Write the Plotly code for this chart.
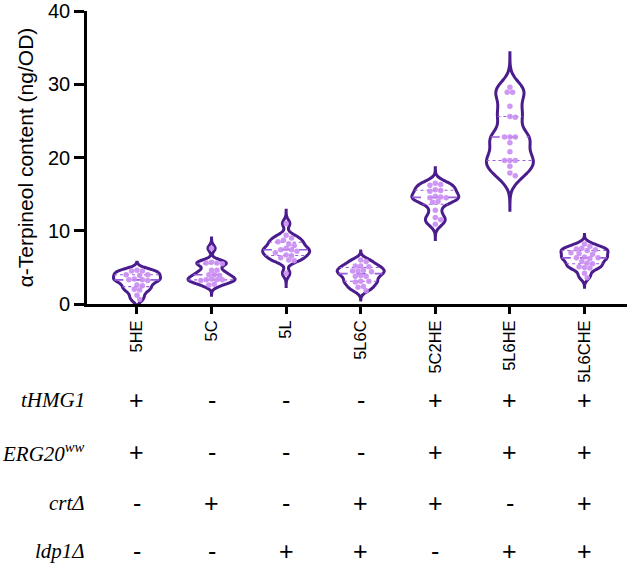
import numpy as np
import plotly.graph_objects as go

categories = ["5HE", "5C", "5L", "5L6C", "5C2HE", "5L6HE", "5L6CHE"]

v_5HE = [4.6, 4.5, 4.5, 4.0, 4.0, 3.9, 3.4, 3.3, 3.3, 3.2, 2.6, 2.5, 2.0, 1.9, 1.2, 0.6]
v_5C = [7.6, 5.7, 5.6, 5.6, 5.5, 4.6, 4.6, 4.0, 4.0, 3.9, 3.4, 3.3, 3.3, 3.3, 3.2, 2.7, 2.6]
v_5L = [11.0, 9.4, 9.0, 8.7, 8.5, 8.2, 8.0, 7.6, 7.4, 7.4, 7.2, 7.0, 6.7, 6.6, 6.3, 6.0, 5.9, 4.2]
v_5L6C = [6.0, 5.8, 5.2, 5.2, 5.1, 4.6, 4.5, 4.5, 4.4, 3.9, 3.8, 3.8, 3.1, 3.1, 3.0, 2.4, 2.3, 1.8]
v_5C2HE = [16.5, 16.3, 16.2, 15.6, 15.5, 15.4, 14.7, 14.6, 14.5, 14.5, 14.0, 13.9, 12.8, 11.8, 11.5, 10.9]
v_5L6HE = [29.6, 28.9, 28.9, 27.0, 25.6, 25.5, 22.8, 22.8, 22.8, 22.0, 20.8, 19.6, 19.6, 19.6, 18.8, 17.9, 17.5]
v_5L6CHE = [8.2, 7.9, 7.6, 7.5, 7.4, 7.3, 7.0, 6.9, 6.8, 6.4, 6.3, 6.3, 6.2, 5.8, 5.6, 5.5, 5.1, 5.0, 4.9, 4.2, 3.6]

series = [v_5HE, v_5C, v_5L, v_5L6C, v_5C2HE, v_5L6HE, v_5L6CHE]
bandwidths = [0.42, 0.42, 0.5, 0.42, 0.6, 1.25, 0.42]
tail_ext = [1.1, 1.4, 1.8, 1.25, 2.1, 4.7, 1.3]

y_ticks = [0, 10, 20, 30, 40]
y_title = "α-Terpineol content (ng/OD)"

row_labels = ["tHMG1", "ERG20<sup>ww</sup>", "crtΔ", "ldp1Δ"]
signs = [
    ["+", "-", "-", "-", "+", "+", "+"],
    ["+", "-", "-", "-", "+", "+", "+"],
    ["-", "+", "-", "+", "+", "-", "+"],
    ["-", "-", "+", "+", "-", "+", "+"],
]

# style
W, H = 634, 565
ML, MR, MT, MB = 87, 7, 11, 261
XR = [-0.67, 6.57]
YR = [0, 40]
VW = 0.63
OUT = "#4A1C8C"
PT = "#C98CF2"
QL = "#9A5CDB"
FONT = "Arial, Liberation Sans, sans-serif"

pw = W - ML - MR
ph = H - MT - MB
px_x = pw / (XR[1] - XR[0])
px_y = ph / (YR[1] - YR[0])

fig = go.Figure()


def kde(grid, vals, bw):
    v = np.asarray(vals)[None, :]
    g = np.asarray(grid)[:, None]
    return np.exp(-0.5 * ((g - v) / bw) ** 2).sum(axis=1)


def beeswarm(vals, d=5.4):
    order = np.argsort(vals)[::-1]
    placed = []
    offs = np.zeros(len(vals))
    cands = [0.0]
    for j in range(1, 20):
        cands += [j * d * 0.5, -j * d * 0.5]
    for i in order:
        yp = vals[i] * px_y
        for c in cands:
            if all((ox - c) ** 2 + (oy - yp) ** 2 >= (d * 0.95) ** 2 for ox, oy in placed):
                offs[i] = c
                placed.append((c, yp))
                break
    return offs / px_x


for i, (cat, vals, bw, ext) in enumerate(zip(categories, series, bandwidths, tail_ext)):
    vals = np.array(vals, dtype=float)
    lo, hi = vals.min() - ext, vals.max() + ext
    fig.add_trace(go.Violin(
        x=[i] * len(vals), y=vals, points=False, bandwidth=bw,
        spanmode="manual", span=[lo, hi], width=VW, fillcolor="white",
        line=dict(color=OUT, width=3), showlegend=False,
        hoverinfo="skip", box=dict(visible=False), meanline=dict(visible=False),
    ))
    grid = np.linspace(lo, hi, 600)
    dmax = kde(grid, vals, bw).max()
    qs = np.percentile(vals, [25, 50, 75])
    for qi, q in enumerate(qs):
        hw = VW / 2 * kde([q], vals, bw)[0] / dmax
        fig.add_trace(go.Scatter(
            x=[i - hw, i + hw], y=[q, q], mode="lines",
            line=dict(color=QL, width=1.6 if qi == 1 else 1.1, dash="dash" if qi == 1 else "dot"),
            showlegend=False, hoverinfo="skip",
        ))
    offs = beeswarm(vals)
    fig.add_trace(go.Scatter(
        x=i + offs, y=vals, mode="markers",
        marker=dict(color=PT, size=5.5, opacity=0.9, line=dict(width=0)),
        showlegend=False, hoverinfo="skip",
    ))

# table rows
row_px = [400, 452, 503, 551]
for r, (lab, row) in enumerate(zip(row_labels, signs)):
    yp = (MT + ph - row_px[r]) / ph
    fig.add_annotation(
        x=0, xref="paper", y=yp, yref="paper", text="<i>" + lab + "</i>",
        showarrow=False, xanchor="right", yanchor="middle", xshift=0,
        font=dict(family="Liberation Serif, Times New Roman, serif", size=21, color="black"),
    )
    for c, s in enumerate(row):
        fig.add_annotation(
            x=c, xref="x", y=yp, yref="paper", text=s, showarrow=False,
            xanchor="center", yanchor="middle",
            font=dict(family=FONT, size=25, color="black"),
        )

fig.update_layout(
    width=W, height=H, margin=dict(l=ML, r=MR, t=MT, b=MB, autoexpand=False),
    plot_bgcolor="white", paper_bgcolor="white", violinmode="overlay",
    font=dict(family=FONT, color="black"),
    xaxis=dict(
        range=XR, tickmode="array", tickvals=list(range(len(categories))), ticktext=categories,
        tickangle=-90, ticks="outside", ticklen=7, tickwidth=2.5, tickcolor="black",
        showline=True, linecolor="black", linewidth=2.6, showgrid=False, zeroline=False,
        tickfont=dict(size=16.5, family=FONT, color="black"),
    ),
    yaxis=dict(
        range=YR, tickvals=y_ticks, ticks="outside", ticklen=10, tickwidth=2.5, tickcolor="black",
        showline=True, linecolor="black", linewidth=2.6, showgrid=False, zeroline=False,
        tickfont=dict(size=20, family=FONT, color="black"),
        title=dict(text=y_title, font=dict(size=21, family=FONT, color="black"), standoff=9),
    ),
)

fig.write_html("out.html")
